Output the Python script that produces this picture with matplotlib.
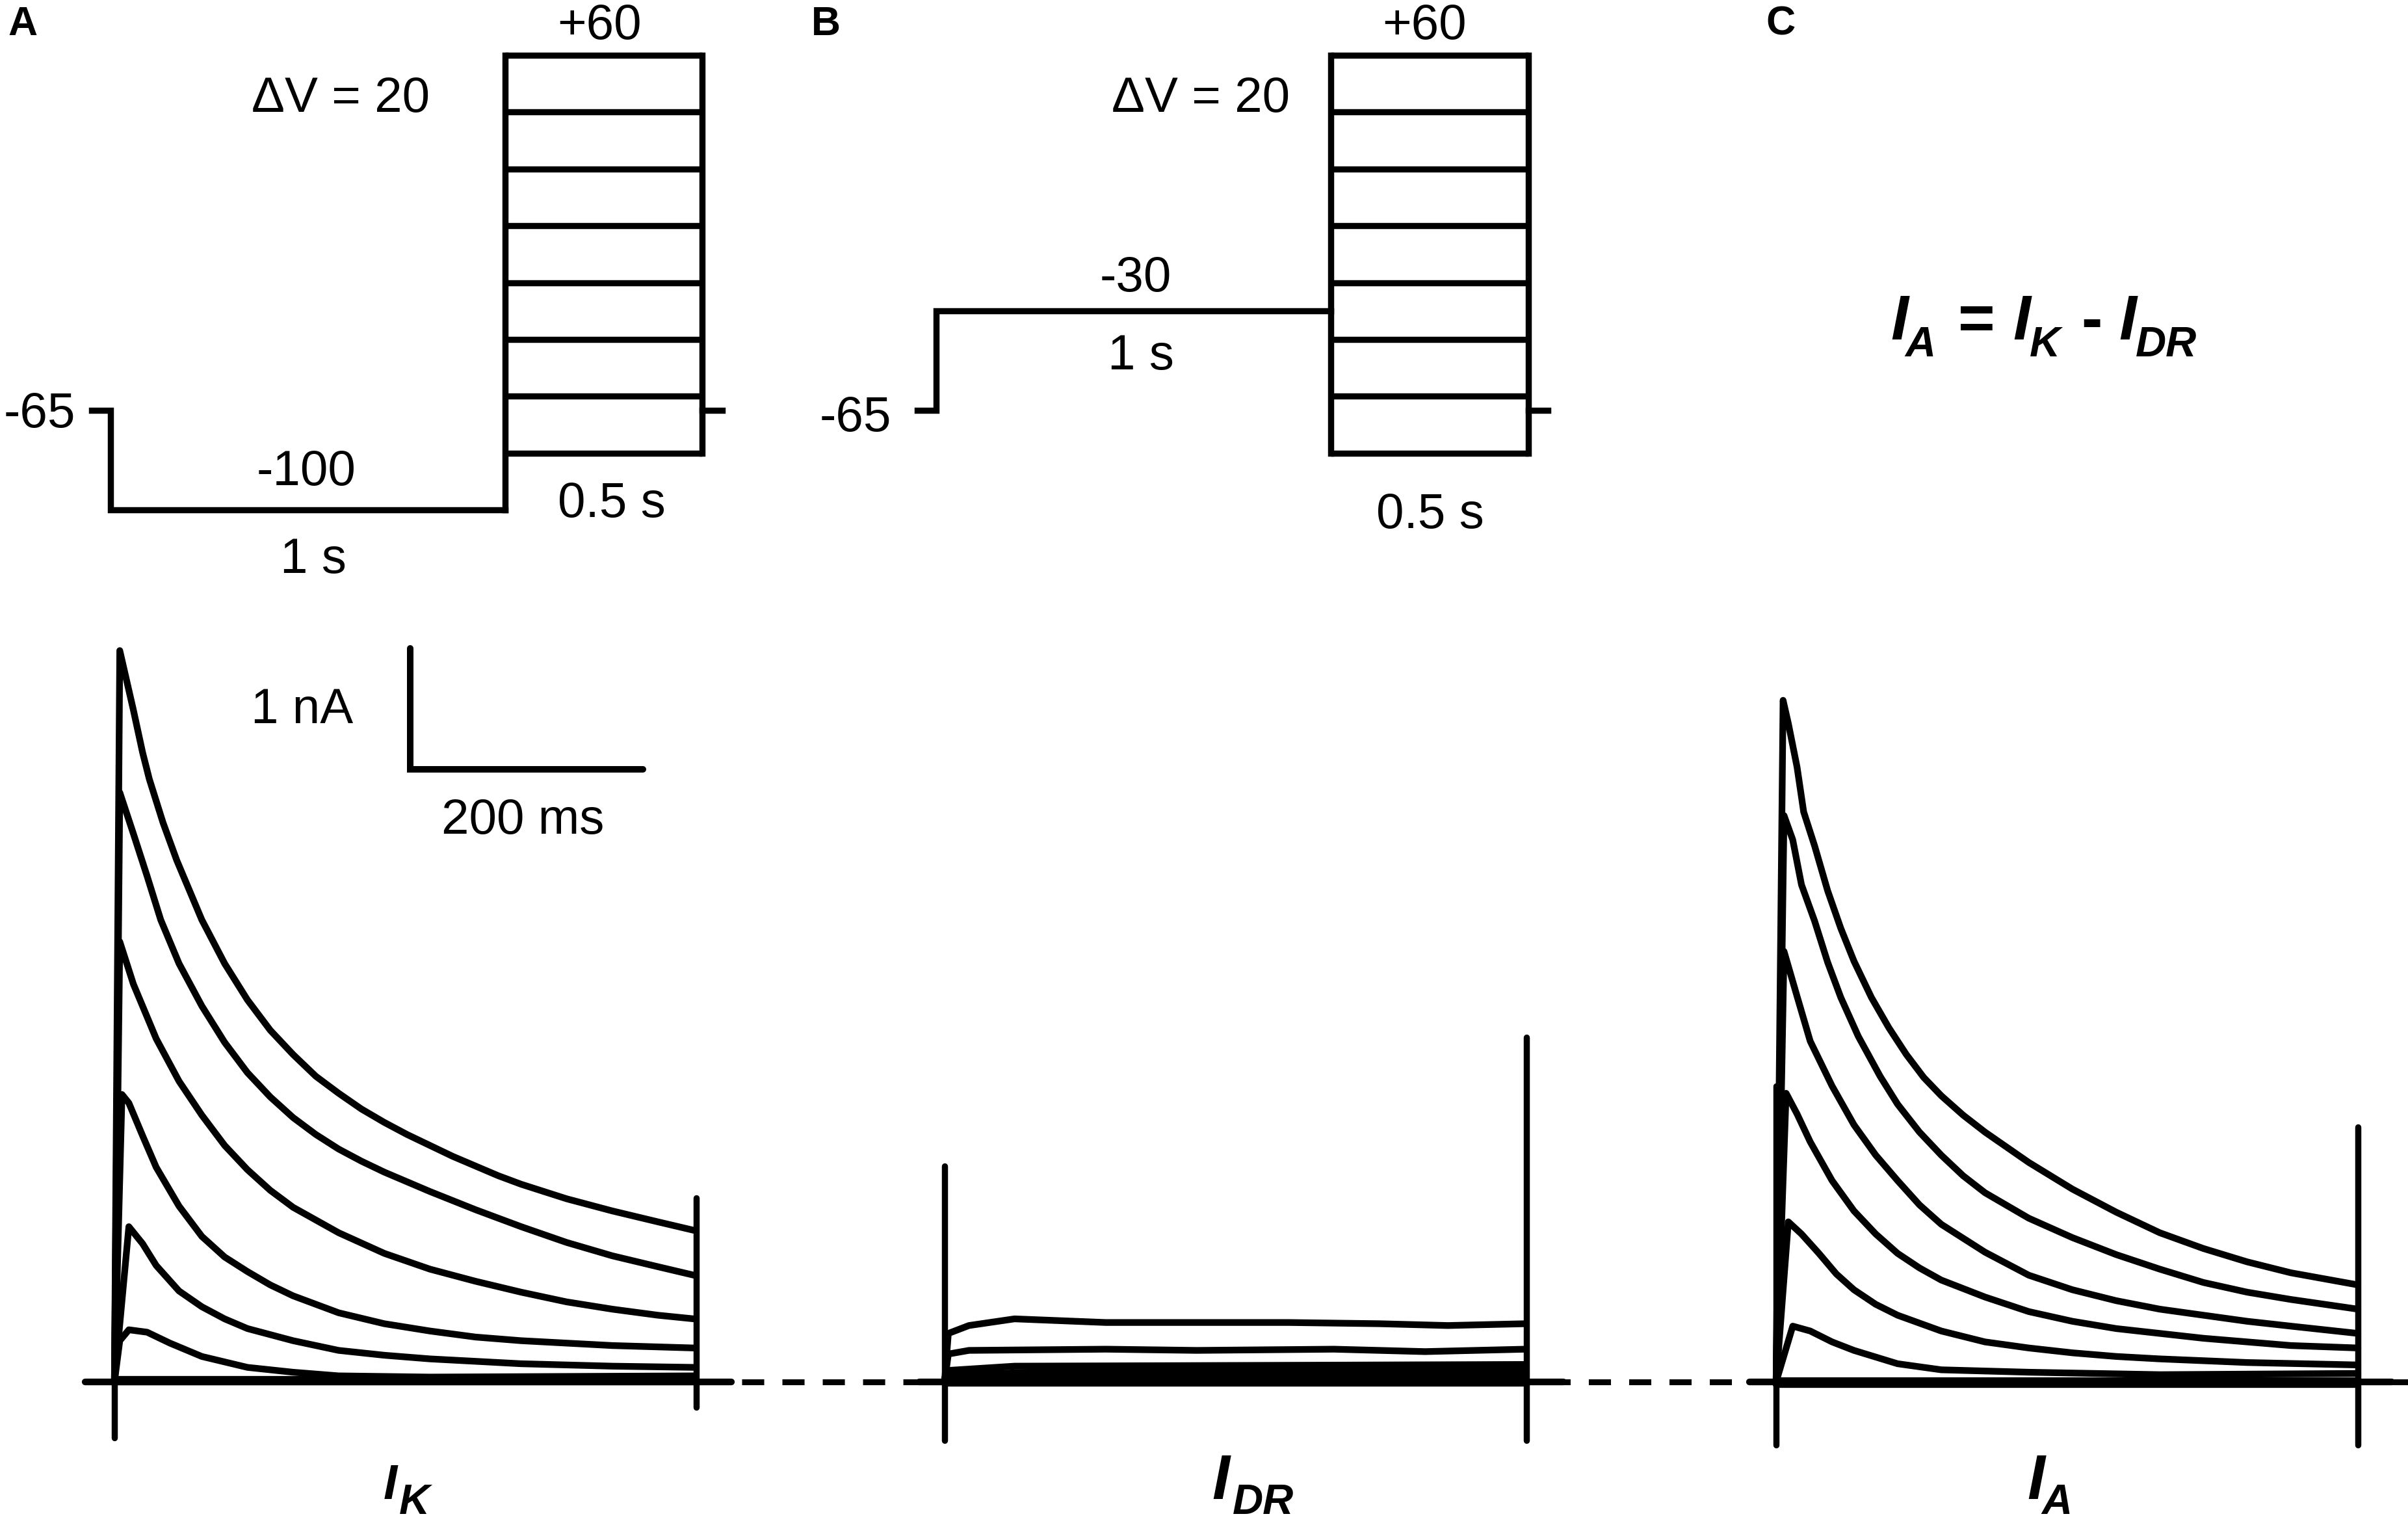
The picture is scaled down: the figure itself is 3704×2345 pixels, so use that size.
import matplotlib
matplotlib.use("Agg")
import matplotlib.pyplot as plt
from matplotlib.transforms import blended_transform_factory

# ---------------- data ----------------
# voltage protocols (mV / ms)
hold_mV = -65
prepulse_A_mV = -100
prepulse_B_mV = -30
pre_hold_ms = 47
prepulse_ms = 1000
step_ms = 500
tail_ms = 50
step_levels_mV = [60, 40, 20, 0, -20, -40, -60, -80]

# current traces (ms, nA)
IK_times = [
    [0, 4.6, 16.3, 24.2, 30.0, 41.8, 53.6, 75.1, 94.7, 114.3, 133.9, 153.5, 173.1, 192.7, 212.3, 231.9, 251.5, 271.1, 290.7, 310.3, 329.9, 349.5, 388.6, 427.8, 467.0, 498],
    [0, 4.6, 16.3, 28.1, 39.8, 55.5, 75.1, 94.7, 114.3, 133.9, 153.5, 173.1, 192.7, 212.3, 231.9, 271.1, 310.3, 349.5, 388.6, 427.8, 467.0, 498],
    [0, 4.6, 16.3, 35.9, 55.5, 75.1, 94.7, 114.3, 133.9, 153.5, 192.7, 231.9, 271.1, 310.3, 349.5, 388.6, 427.8, 467.0, 498],
    [0, 6.5, 12.4, 24.2, 35.9, 55.5, 75.1, 94.7, 114.3, 133.9, 153.5, 192.7, 231.9, 271.1, 310.3, 349.5, 388.6, 427.8, 498],
    [0, 12.4, 24.2, 35.9, 55.5, 75.1, 94.7, 114.3, 153.5, 192.7, 231.9, 271.1, 349.5, 427.8, 498],
    [0, 4.6, 12.4, 28.1, 47.7, 75.1, 114.3, 153.5, 192.7, 271.1, 498],
    [0, 498],
    [0, 498],
]
IK_nA = [
    [0, 6.03, 5.54, 5.19, 4.97, 4.61, 4.30, 3.81, 3.45, 3.15, 2.90, 2.70, 2.52, 2.38, 2.25, 2.14, 2.04, 1.95, 1.86, 1.78, 1.70, 1.63, 1.51, 1.41, 1.32, 1.25],
    [0, 4.86, 4.52, 4.17, 3.81, 3.45, 3.10, 2.80, 2.55, 2.35, 2.18, 2.04, 1.92, 1.82, 1.73, 1.57, 1.42, 1.28, 1.15, 1.04, 0.95, 0.88],
    [0, 3.63, 3.28, 2.83, 2.48, 2.20, 1.95, 1.75, 1.58, 1.44, 1.23, 1.06, 0.93, 0.83, 0.74, 0.66, 0.60, 0.55, 0.52],
    [0, 2.37, 2.30, 2.03, 1.77, 1.45, 1.20, 1.03, 0.91, 0.80, 0.71, 0.57, 0.48, 0.42, 0.37, 0.34, 0.32, 0.30, 0.28],
    [0, 1.28, 1.14, 0.96, 0.75, 0.62, 0.52, 0.44, 0.34, 0.26, 0.22, 0.19, 0.15, 0.13, 0.12],
    [0, 0.34, 0.43, 0.41, 0.32, 0.21, 0.12, 0.08, 0.05, 0.04, 0.05],
    [0.02, 0.02],
    [0.0, 0.0],
]

IDR_times = [
    [0, 3.2, 20.9, 60.1, 138.5, 216.8, 295.2, 373.6, 432.4, 499],
    [0, 3.2, 20.9, 138.5, 216.8, 334.4, 412.8, 499],
    [0, 3.2, 60.1, 255.9, 499],
    [0, 3.2, 99.3, 499],
    [0, 3.2, 499],
    [0, 499],
    [0, 499],
    [0, 499],
]
IDR_nA = [
    [0, 0.40, 0.465, 0.52, 0.49, 0.49, 0.49, 0.48, 0.465, 0.48],
    [0, 0.23, 0.26, 0.27, 0.26, 0.27, 0.25, 0.27],
    [0, 0.095, 0.13, 0.136, 0.144],
    [0, 0.054, 0.09, 0.10],
    [0, 0.05, 0.06],
    [0.03, 0.03],
    [0.01, 0.01],
    [-0.01, -0.01],
]

IA_times = [
    [0, 6.0, 10.5, 18.0, 23.7, 33.1, 44.3, 55.6, 66.9, 81.9, 96.9, 111.9, 126.9, 141.9, 160.7, 179.5, 217.1, 254.6, 292.2, 329.7, 367.2, 404.8, 442.3, 500],
    [0, 6.8, 14.3, 21.8, 33.1, 44.3, 55.6, 70.6, 89.4, 104.4, 123.2, 141.9, 160.7, 179.5, 217.1, 254.6, 292.2, 329.7, 367.2, 404.8, 442.3, 500],
    [0, 6.8, 18.0, 29.3, 48.1, 66.9, 85.6, 104.4, 123.2, 141.9, 179.5, 217.1, 254.6, 292.2, 329.7, 367.2, 404.8, 442.3, 500],
    [0, 8.6, 18.0, 29.3, 48.1, 66.9, 85.6, 104.4, 123.2, 141.9, 179.5, 217.1, 254.6, 292.2, 329.7, 367.2, 404.8, 442.3, 500],
    [0, 10.5, 21.8, 36.8, 51.8, 66.9, 85.6, 104.4, 141.9, 179.5, 217.1, 254.6, 292.2, 329.7, 404.8, 500],
    [0, 14.3, 29.3, 48.1, 66.9, 104.4, 141.9, 217.1, 329.7, 500],
    [0, 500],
    [0, 500],
]
IA_nA = [
    [0, 5.62, 5.43, 5.07, 4.70, 4.42, 4.05, 3.74, 3.47, 3.17, 2.92, 2.70, 2.51, 2.36, 2.20, 2.06, 1.81, 1.59, 1.40, 1.23, 1.10, 0.99, 0.90, 0.80],
    [0, 4.67, 4.47, 4.10, 3.80, 3.46, 3.17, 2.85, 2.52, 2.29, 2.06, 1.87, 1.70, 1.56, 1.35, 1.19, 1.05, 0.93, 0.82, 0.74, 0.68, 0.60],
    [0, 3.55, 3.18, 2.81, 2.44, 2.12, 1.87, 1.66, 1.46, 1.30, 1.07, 0.88, 0.76, 0.67, 0.60, 0.55, 0.50, 0.46, 0.40],
    [0, 2.38, 2.21, 1.98, 1.66, 1.41, 1.22, 1.06, 0.94, 0.84, 0.70, 0.58, 0.50, 0.44, 0.40, 0.36, 0.33, 0.30, 0.28],
    [0, 1.32, 1.22, 1.06, 0.89, 0.76, 0.64, 0.55, 0.42, 0.33, 0.28, 0.24, 0.21, 0.19, 0.16, 0.14],
    [0, 0.46, 0.42, 0.33, 0.26, 0.15, 0.10, 0.08, 0.06, 0.07],
    [0.01, 0.01],
    [-0.02, -0.02],
]

# capacitive artefacts at step on/off (nA): [IK, IDR, IA]
art_on_lo = [-0.46, -0.48, -0.52]
art_on_hi = [0.0, 1.78, 2.44]
art_off_lo = [-0.21, -0.48, -0.52]
art_off_hi = [1.52, 2.84, 2.10]
baseline_ms = [(-25, 530), (-22, 532), (-23, 529)]
step_end_ms = 500

scale_nA = 1
scale_ms = 200

# ---------------- figure ----------------
W, H = 3704, 2345
fig = plt.figure(figsize=(W / 100, H / 100), dpi=100)
plt.rcParams['font.family'] = ['Liberation Sans', 'DejaVu Sans']

LW = 6.8
LW_TR = 7.4
FS = 55


def place(x0px, xs, y0px, ys, xlim, ylim):
    left = x0px + xlim[0] * xs
    right = x0px + xlim[1] * xs
    top = y0px - ylim[1] * ys
    bottom = y0px - ylim[0] * ys
    ax = fig.add_axes([left / W, 1 - bottom / H, (right - left) / W, (bottom - top) / H])
    ax.set_xlim(xlim)
    ax.set_ylim(ylim)
    ax.axis('off')
    ax.patch.set_alpha(0)
    return ax


def ftext(x, y, s, **kw):
    fig.text(x / W, 1 - y / H, s, **kw)


def line(ax, x, y, **kw):
    kw.setdefault('lw', LW)
    kw.setdefault('color', 'black')
    kw.setdefault('solid_capstyle', 'projecting')
    kw.setdefault('solid_joinstyle', 'miter')
    ax.plot(x, y, clip_on=False, **kw)


# ---- voltage protocols ----
def protocol(ax, prepulse):
    line(ax, [-pre_hold_ms, 0, 0, prepulse_ms], [hold_mV, hold_mV, prepulse, prepulse])
    t1, t2 = prepulse_ms, prepulse_ms + step_ms
    for lv in step_levels_mV:
        line(ax, [t1, t2], [lv, lv], solid_capstyle='butt')
    line(ax, [t1, t1], [min(prepulse, min(step_levels_mV)), max(step_levels_mV)])
    line(ax, [t2, t2], [min(step_levels_mV), max(step_levels_mV)])
    line(ax, [t2, t2 + tail_ms], [hold_mV, hold_mV])


axVA = place(170, 0.607, 347.2, 4.37, (-150, 1600), (-130, 80))
protocol(axVA, prepulse_A_mV)
tk = dict(fontsize=FS, ha='center', va='baseline')
axVA.text(1239, 65.7, '+60', **tk)
axVA.text(583, 40.1, '\u0394V = 20', **tk)
axVA.text(-88, -70.9, '-65', fontsize=FS, ha='right', va='baseline')
axVA.text(496, -91.3, '-100', **tk)
axVA.text(1270, -102.5, '0.5 s', **tk)
axVA.text(514, -122.2, '1 s', **tk)

axVB = place(1440, 0.607, 347.2, 4.37, (-150, 1600), (-130, 80))
protocol(axVB, prepulse_B_mV)
axVB.text(1237, 65.7, '+60', **tk)
axVB.text(670, 40.1, '\u0394V = 20', **tk)
axVB.text(506, -23.1, '-30', **tk)
axVB.text(519, -50.5, '1 s', **tk)
axVB.text(-113, -72.3, '-65', fontsize=FS, ha='right', va='baseline')
axVB.text(1252, -106.4, '0.5 s', **tk)

# ---- current traces ----
panels = [(176, IK_times, IK_nA), (1453, IDR_times, IDR_nA), (2732, IA_times, IA_nA)]
axes_I = []
for k, (x0, tt, ii) in enumerate(panels):
    ax = place(x0, 1.79, 2125, 186.5, (-60, 600), (-1.2, 6.5))
    axes_I.append(ax)
    b0, b1 = baseline_ms[k]
    line(ax, [b0, b1], [0, 0], lw=LW_TR, solid_capstyle='round')
    line(ax, [0, 0], [art_on_lo[k], art_on_hi[k]], solid_capstyle='round')
    line(ax, [step_end_ms, step_end_ms], [art_off_lo[k], art_off_hi[k]], solid_capstyle='round')
    for t, i in zip(tt, ii):
        line(ax, t, i, lw=LW_TR, solid_capstyle='round', solid_joinstyle='round')

# scale bar
axA = axes_I[0]
bar_t, bar_i = 254, 5.05
line(axA, [bar_t, bar_t, bar_t + scale_ms], [bar_i + scale_nA, bar_i, bar_i], lw=7.2,
     solid_capstyle='round')
axA.text(161, 5.43, '%d nA' % scale_nA, **tk)
axA.text(351, 4.52, '%d ms' % scale_ms, **tk)

# dashed zero line linking the panels
tr = blended_transform_factory(fig.transFigure, axA.transData)
axA.plot([1141 / W, 2690 / W], [0, 0], transform=tr, color='black', lw=6.5,
         linestyle=(0, (3.77, 3.1)), dash_capstyle='butt', clip_on=False)
axA.plot([3680 / W, 3704 / W], [0, 0], transform=tr, color='black', lw=6.5,
         solid_capstyle='butt', clip_on=False)

# ---- labels ----
bi = dict(fontweight='bold', fontstyle='italic', va='baseline', ha='left')
for x, s in [(12, 'A'), (1248, 'B'), (2716, 'C')]:
    ftext(x, 54, s, fontsize=45, fontweight='bold', va='baseline', ha='left')

# trace names
ftext(590, 2305, 'I', fontsize=55, **bi)
ftext(614, 2328, 'K', fontsize=47, **bi)
ftext(1864, 2305, 'I', fontsize=70, **bi)
ftext(1896, 2328, 'DR', fontsize=47, **bi)
ftext(3118, 2305, 'I', fontsize=70, **bi)
ftext(3140, 2328, 'A', fontsize=47, **bi)

# formula I_A = I_K - I_DR
ftext(2908, 522, 'I', fontsize=70, **bi)
ftext(2930, 548, 'A', fontsize=47, **bi)
ftext(3040, 522, '=', fontsize=70, fontweight='bold', va='baseline', ha='center')
ftext(3096, 522, 'I', fontsize=70, **bi)
ftext(3122, 548, 'K', fontsize=47, **bi)
ftext(3217, 522, '-', fontsize=70, fontweight='bold', va='baseline', ha='center')
ftext(3259, 522, 'I', fontsize=70, **bi)
ftext(3285, 548, 'DR', fontsize=47, **bi)

fig.savefig('out.png', dpi=100, facecolor='white')
